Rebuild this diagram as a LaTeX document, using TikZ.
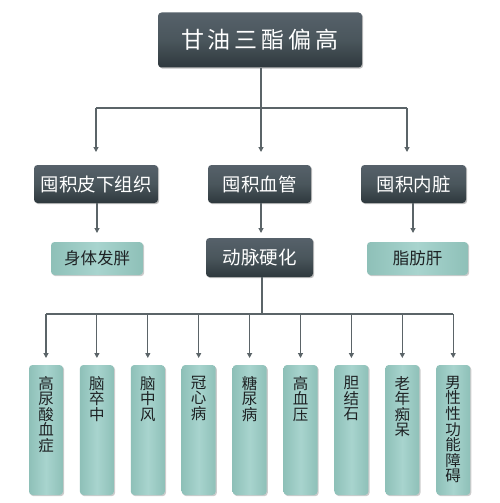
\documentclass[tikz,border=0pt]{standalone}
\usepackage{fontspec}
\newfontfamily\cjk{Noto Sans CJK SC}
\usetikzlibrary{arrows.meta,shadows,calc}
\definecolor{lineC}{HTML}{5B6468}
\definecolor{dkTop}{HTML}{56616A}
\definecolor{dkMid}{HTML}{4A565C}
\definecolor{dkBot}{HTML}{2E383D}
\definecolor{tlEdge}{HTML}{8EC0B8}
\definecolor{tlMid}{HTML}{A8D4CE}
\definecolor{txtDk}{HTML}{1E2224}
\begin{document}
\begin{tikzpicture}[x=1pt,y=-1pt,
  darkbox/.style={rounded corners=3.5pt, top color=dkTop, bottom color=dkBot, middle color=dkMid,
    text=white, inner sep=0pt, font=\cjk\fontsize{18.5}{20}\selectfont,
    drop shadow={shadow xshift=1.2pt, shadow yshift=-1.2pt, opacity=0.25, fill=black}},
  tealbox/.style={rounded corners=3.5pt, left color=tlEdge, right color=tlEdge, middle color=tlMid,
    text=txtDk, inner sep=0pt, font=\cjk\fontsize{16.5}{18}\selectfont,
    drop shadow={shadow xshift=1.2pt, shadow yshift=-1.2pt, opacity=0.2, fill=black}},
  leaftext/.style={anchor=north, inner sep=0pt, align=center, text=txtDk,
    font=\cjk\fontsize{15.5}{15.6}\selectfont},
  conn/.style={draw=lineC, line width=1.1pt},
  arr/.style={conn, -{Triangle[length=5pt,width=5pt]}}
]
\useasboundingbox (0,0) rectangle (500,503);
\fill[white] (0,0) rectangle (500,503);

% top
\node[darkbox, minimum width=204pt, minimum height=55pt,
  font=\cjk\fontsize{23}{25}\selectfont] (top) at (260,40)
  {甘\kern4pt 油\kern4pt 三\kern4pt 酯\kern4pt 偏\kern4pt 高};

% level 2
\node[darkbox, minimum width=124pt, minimum height=38pt] (a) at (96,184) {囤积皮下组织};
\node[darkbox, minimum width=103pt, minimum height=38pt] (b) at (259.5,184) {囤积血管};
\node[darkbox, minimum width=105pt, minimum height=38pt] (c) at (413.5,184) {囤积内脏};

% level 3
\node[tealbox, minimum width=92pt, minimum height=33pt] (p) at (97,258.5) {身体发胖};
\node[darkbox, minimum width=107pt, minimum height=39pt] (q) at (259.5,257.5) {动脉硬化};
\node[tealbox, minimum width=101pt, minimum height=33pt] (r) at (417.5,258.5) {脂肪肝};

% connectors top -> level 2
\coordinate (j1) at (261,108);
\coordinate (j1a) at (96,108);
\coordinate (j1c) at (407,108);
\coordinate (t1a) at (96,152);
\coordinate (t1b) at (261,152);
\coordinate (t1c) at (407,152);
\draw[conn] (top.south -| j1) -- (j1);
\draw[conn] (j1a) -- (j1c);
\draw[arr] (j1a) -- (t1a);
\draw[arr] (j1) -- (t1b);
\draw[arr] (j1c) -- (t1c);

% level 2 -> level 3
\coordinate (t2a) at (97,233);
\coordinate (t2b) at (261,233);
\coordinate (t2c) at (413,233);
\draw[arr] (a.south -| t2a) -- (t2a);
\draw[arr] (b.south -| t2b) -- (t2b);
\draw[arr] (c.south -| t2c) -- (t2c);

% leaves
\def\leafy{430}
\foreach \i/\t in {0/{高\\尿\\酸\\血\\症},1/{脑\\卒\\中},2/{脑\\中\\风},3/{冠\\心\\病},
  4/{糖\\尿\\病},5/{高\\血\\压},6/{胆\\结\\石},7/{老\\年\\痴\\呆},8/{男\\性\\性\\功\\能\\障\\碍}}{
  \pgfmathsetmacro\cx{46+50.9*\i}
  \node[tealbox, minimum width=34pt, minimum height=130pt] (leaf\i) at (\cx,\leafy) {};
  \node[leaftext] (lt\i) at ($(leaf\i.north)+(0,11)$) {\t};
  \coordinate (h\i) at (\cx,314);
  \coordinate (ht\i) at (\cx,358);
  \draw[arr] (h\i) -- (ht\i);
}
\coordinate (j3) at (262,314);
\draw[conn] (q.south -| j3) -- (j3);
\draw[conn] (h0) -- (h8);
\end{tikzpicture}
\end{document}
